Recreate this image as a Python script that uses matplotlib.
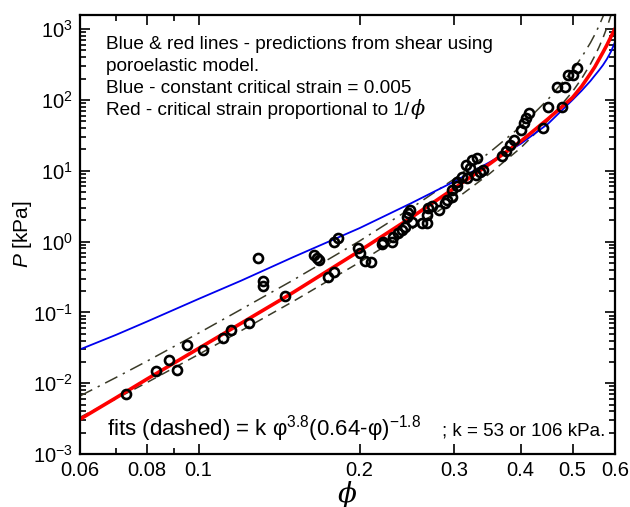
import matplotlib
matplotlib.use('Agg')
import matplotlib.pyplot as plt
from matplotlib.ticker import FixedLocator, FixedFormatter, LogLocator, NullFormatter

plt.rcParams['font.family'] = ['Liberation Sans', 'DejaVu Sans']
plt.rcParams['mathtext.fontset'] = 'custom'
plt.rcParams['mathtext.rm'] = 'Liberation Sans'
plt.rcParams['mathtext.it'] = 'Liberation Sans:italic'

# measured points (phi, P in kPa)
phi_data = [0.0732, 0.0832, 0.0881, 0.0911, 0.0951, 0.1019, 0.1111, 0.1149, 0.1242,
            0.1290, 0.1318, 0.1318, 0.1448, 0.1645, 0.1665, 0.1680, 0.1745, 0.1790,
            0.1790, 0.1820, 0.1985, 0.2000, 0.2050, 0.2100, 0.2201, 0.2210, 0.2296,
            0.2310, 0.2355, 0.2400, 0.2432, 0.2450, 0.2463, 0.2485, 0.2510, 0.2615,
            0.2673, 0.2673, 0.2680, 0.2730, 0.2817, 0.2884, 0.2918, 0.2978, 0.2978,
            0.3043, 0.3043, 0.3109, 0.3164, 0.3170, 0.3210, 0.3248, 0.3300, 0.3320,
            0.3352, 0.3400, 0.3690, 0.3760, 0.3820, 0.3880, 0.4000, 0.4050, 0.4100,
            0.4140, 0.4400, 0.4500, 0.4670, 0.4780, 0.4840, 0.4900, 0.5000, 0.5100]
p_data = [0.0070, 0.0148, 0.0211, 0.0152, 0.0343, 0.0292, 0.0430, 0.0557, 0.0700,
          0.577, 0.273, 0.232, 0.168, 0.64, 0.58, 0.55, 0.311, 0.366,
          1.00, 1.14, 0.80, 0.68, 0.53, 0.52, 0.91, 1.00, 1.00,
          1.17, 1.34, 1.47, 1.63, 2.25, 2.56, 2.80, 1.91, 1.85,
          1.85, 2.40, 3.00, 3.20, 2.78, 3.54, 3.90, 4.30, 5.40,
          6.00, 7.00, 8.20, 12.2, 8.00, 11.0, 14.3, 8.80, 15.3,
          9.70, 10.4, 16.0, 18.7, 23.0, 27.0, 38.0, 47.0, 56.0,
          65.0, 40.0, 79.0, 152, 79.0, 152, 225, 225, 283]

# model / fit curves
curve_phi = [0.06, 0.07, 0.08, 0.1, 0.12, 0.15, 0.2, 0.25, 0.3, 0.35, 0.4, 0.45,
             0.5, 0.52, 0.54, 0.55, 0.56, 0.57, 0.58, 0.59, 0.6]
p_blue = [0.030, 0.048, 0.074, 0.155, 0.28, 0.60, 1.55, 3.5, 7.0, 13.2, 24, 46,
          100, 135, 185, 220, 260, 310, 380, 480, 650]
p_red = [0.0031, 0.0062, 0.0114, 0.031, 0.070, 0.19, 0.74, 2.2, 5.6, 12.5, 26, 54,
         108, 155, 235, 290, 370, 470, 600, 780, 1000]
p_fit_lo = [0.0033, 0.0060, 0.0102, 0.0255, 0.055, 0.142, 0.51, 1.49, 3.8, 9.1, 21, 51,
            131, 200, 320, 415, 550, 750, 1060, 1570, 2500]
p_fit_hi = [0.0066, 0.0120, 0.0204, 0.051, 0.110, 0.284, 1.02, 2.98, 7.6, 18.2, 42, 102,
            262, 400, 640, 830, 1100, 1500, 2120, 3140, 5000]

x_ticks = [0.06, 0.08, 0.1, 0.2, 0.3, 0.4, 0.5, 0.6]
x_labels = ['0.06', '0.08', '0.1', '0.2', '0.3', '0.4', '0.5', '0.6']
x_minor = [0.07, 0.09]

fig = plt.figure(figsize=(6.3, 5.07), dpi=100)
ax = fig.add_axes([0.127, 0.1045, 0.849, 0.8655])

olive = '#3a3a28'
ax.plot(curve_phi, p_fit_hi, color=olive, lw=1.1, dashes=(9, 4, 1.5, 4))
ax.plot(curve_phi, p_fit_lo, color=olive, lw=1.1, dashes=(6, 4))
ax.plot(curve_phi, p_blue, color='#0000ee', lw=1.3)
ax.plot(curve_phi, p_red, color='#ff0000', lw=2.6)
ax.plot(phi_data, p_data, 'o', mfc='none', mec='black', mew=1.9, ms=6.5)

ax.set_xscale('log')
ax.set_yscale('log')
ax.set_xlim(0.06, 0.6)
ax.set_ylim(1e-3, 1.57e3)

ax.xaxis.set_major_locator(FixedLocator(x_ticks))
ax.xaxis.set_major_formatter(FixedFormatter(x_labels))
ax.xaxis.set_minor_locator(FixedLocator(x_minor))
ax.xaxis.set_minor_formatter(NullFormatter())
ax.yaxis.set_major_locator(LogLocator(base=10, numticks=10))
ax.yaxis.set_minor_locator(LogLocator(base=10, subs=range(2, 10), numticks=20))
ax.yaxis.set_minor_formatter(NullFormatter())

ax.tick_params(which='both', direction='in', top=True, right=True, labelsize=14.5, width=1.2)
ax.tick_params(which='major', length=7, pad=5)
ax.tick_params(which='minor', length=4)
for s in ax.spines.values():
    s.set_linewidth(1.6)

ax.text(0.5, -0.093, '\u03d5', transform=ax.transAxes, ha='center', va='center',
        fontsize=20, family='DejaVu Serif', style='italic')
ax.text(-0.108, 0.5, '$P$ [kPa]', transform=ax.transAxes, ha='center', va='center',
        rotation=90, fontsize=15)

lines = ['Blue & red lines - predictions from shear using',
         'poroelastic model.',
         'Blue - constant critical strain = 0.005',
         'Red - critical strain proportional to 1/']
ys = [0.9226, 0.8724, 0.8223, 0.7722]
for s, y in zip(lines, ys):
    t = ax.text(0.0486, y, s, transform=ax.transAxes, fontsize=13.7, va='baseline')
fig.canvas.draw()
bb = t.get_window_extent().transformed(ax.transAxes.inverted())
ax.text(bb.x1 + 0.003, 0.7722, '\u03d5', transform=ax.transAxes, fontsize=15,
        family='DejaVu Serif', style='italic', va='baseline')

ax.text(0.0505, 0.0433, 'fits (dashed) = k \u03c6$^{3.8}$(0.64-\u03c6)$^{-1.8}$',
        transform=ax.transAxes, fontsize=16, va='baseline')
ax.text(0.6766, 0.0433, '; k = 53 or 106 kPa.', transform=ax.transAxes,
        fontsize=13.5, va='baseline')

fig.savefig('out.png', dpi=100)
